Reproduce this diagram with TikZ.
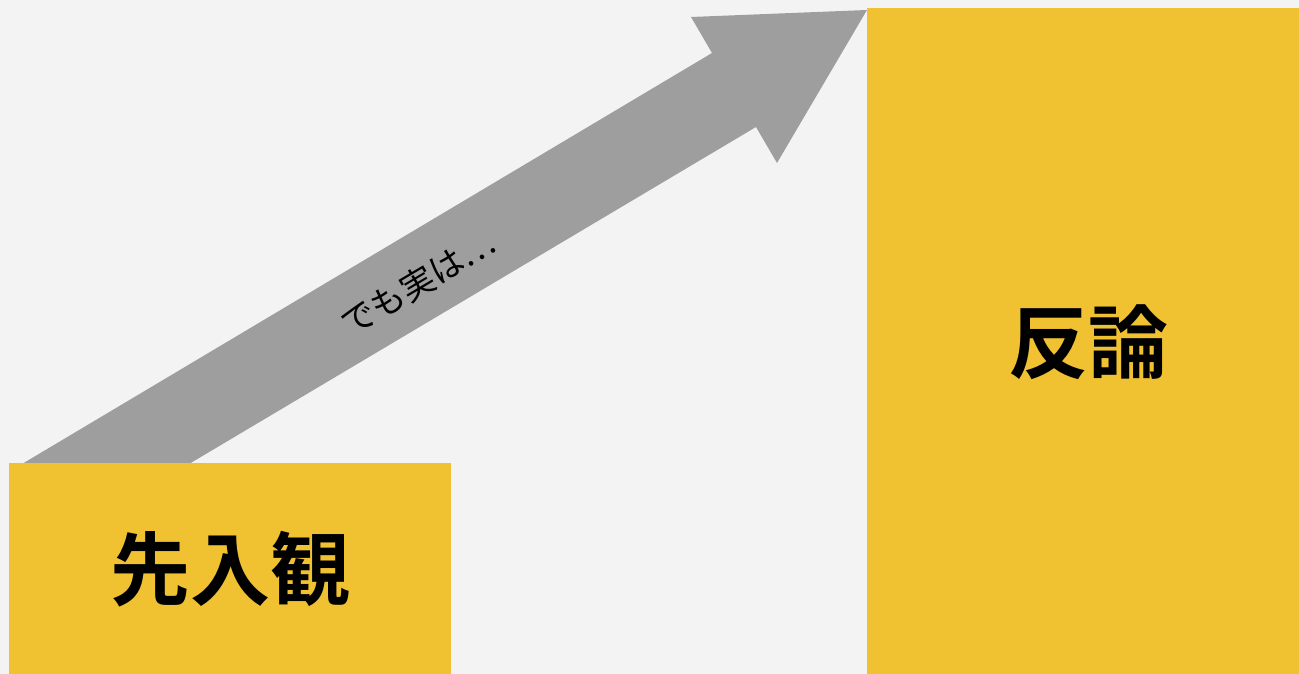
\documentclass[tikz,border=0pt]{standalone}
\usepackage{fontspec}
\newfontfamily\cjk{Noto Sans CJK JP}
\newfontfamily\cjkbold{Noto Sans CJK JP Bold}
\definecolor{bg}{HTML}{F3F3F3}
\definecolor{boxyellow}{HTML}{F0C232}
\definecolor{arrowgray}{HTML}{9E9E9E}
\tikzset{
  ybox/.style={fill=boxyellow, draw=none},
  bigtext/.style={font=\cjkbold\fontsize{80}{80}\selectfont, text=black},
  arrowtext/.style={font=\cjk\fontsize{34}{34}\selectfont, text=black}
}
\begin{document}
\begin{tikzpicture}[x=1pt,y=-1pt]
\fill[bg] (0,0) rectangle (1299,674);
\useasboundingbox (0,0) rectangle (1299,674);
% arrow
\fill[arrowgray] (22,464) -- (712,53) -- (691,17) -- (867,10) -- (777,163) -- (756,127) -- (189,464) -- cycle;
\node[arrowtext, rotate=30.7] (lbl) at (418,283) {でも実は…};
% boxes
\fill[ybox] (9,463) rectangle (451,674);
\fill[ybox] (867,8) rectangle (1299,674);
\node[bigtext] (a) at (230,569) {先入観};
\node[bigtext] (b) at (1088,342) {反論};
\end{tikzpicture}
\end{document}
